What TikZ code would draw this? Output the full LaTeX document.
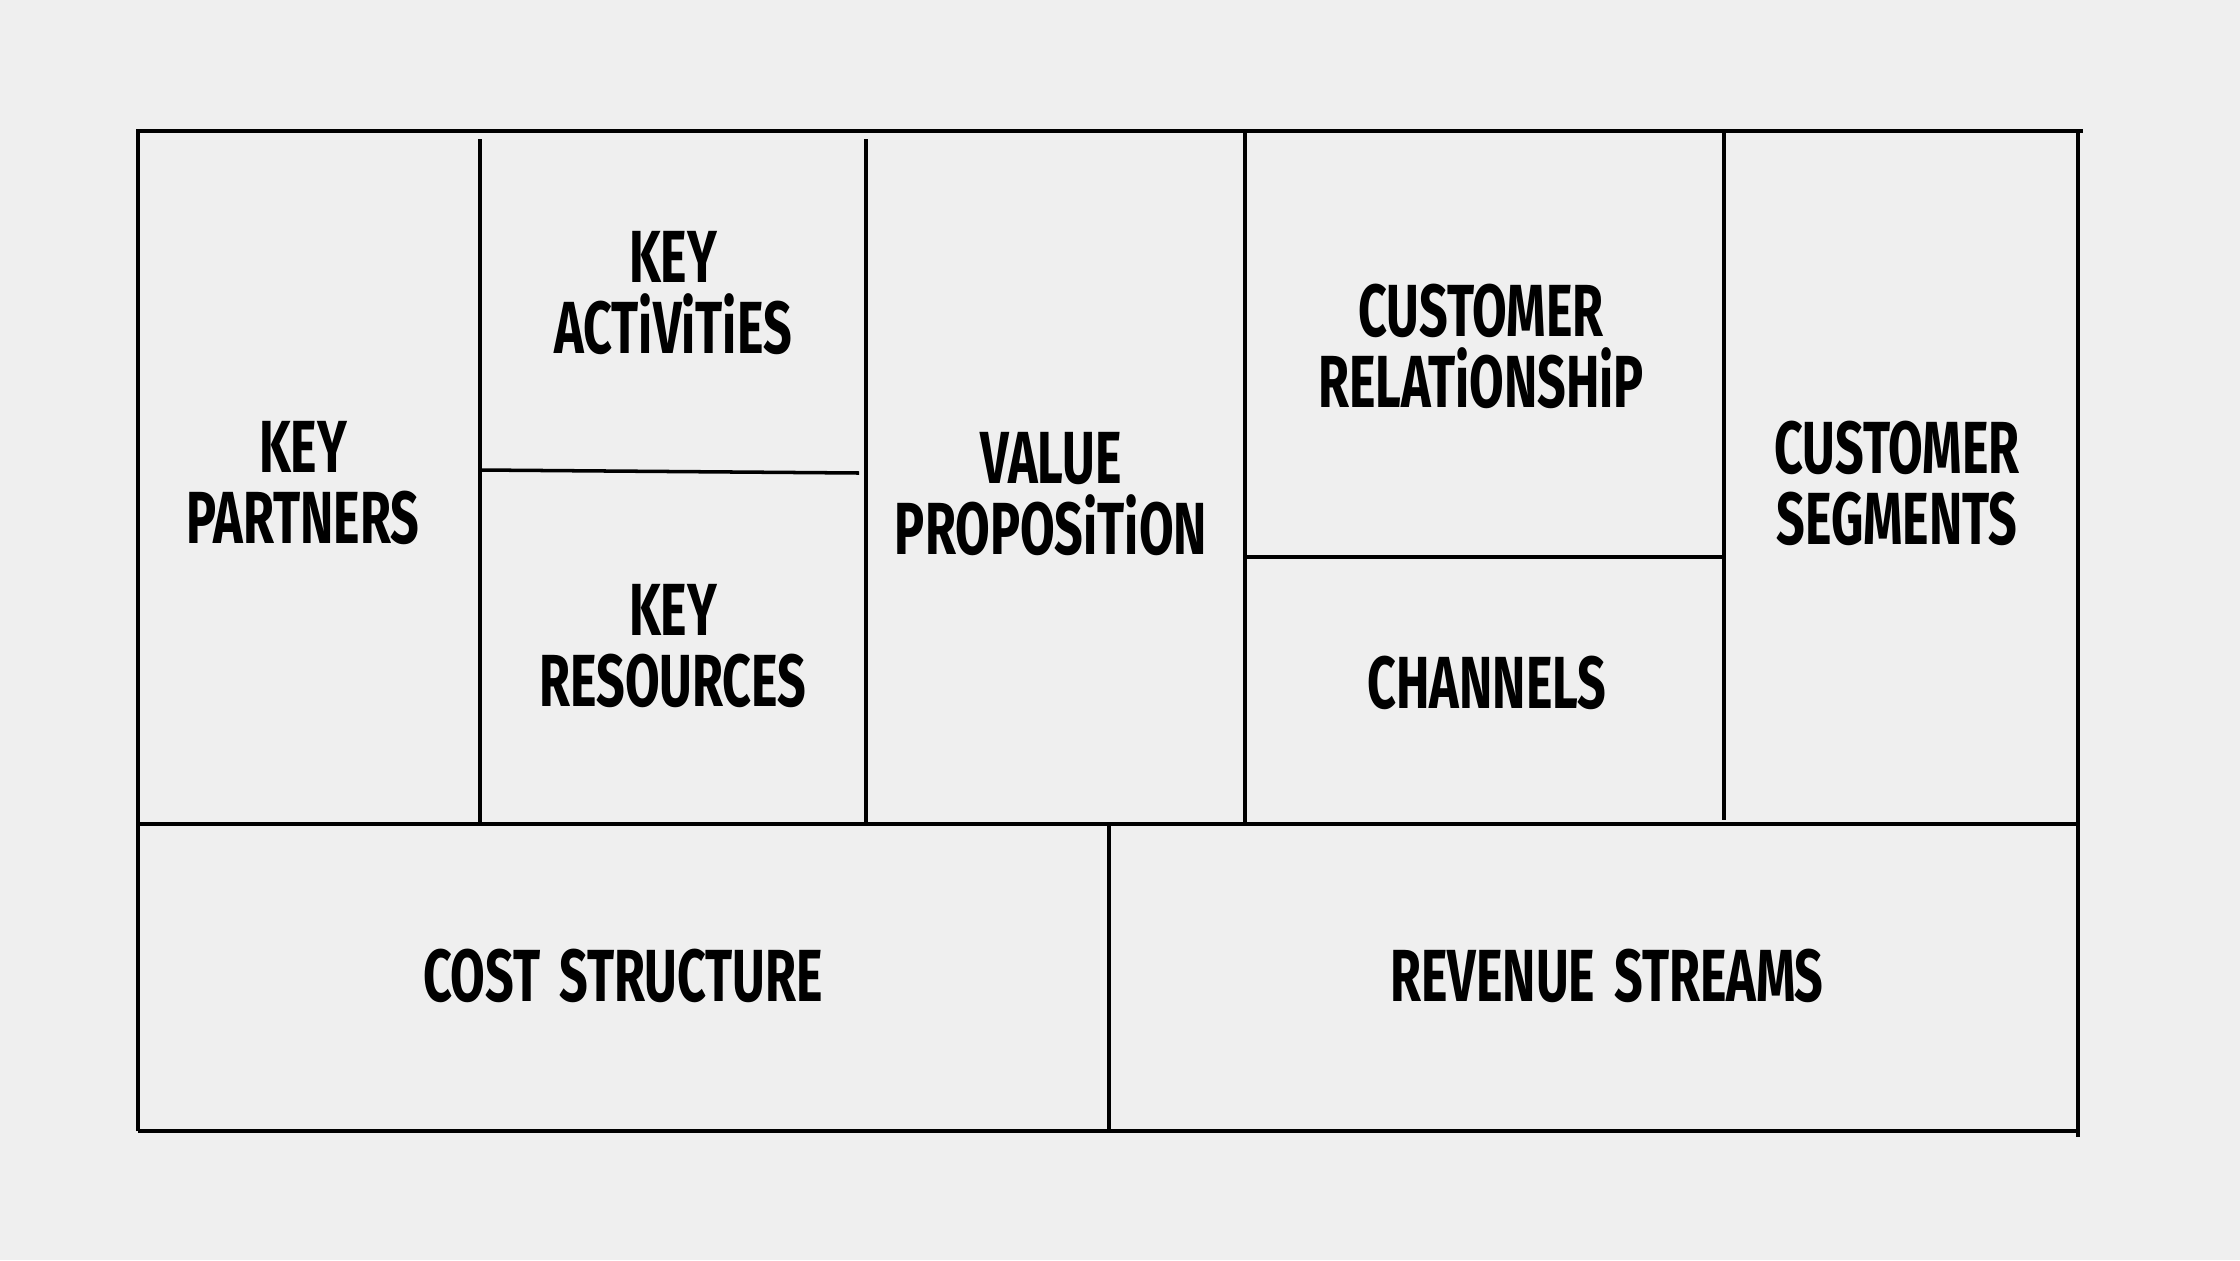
\documentclass[tikz,border=0pt]{standalone}
\usepackage{fontspec}
\setmainfont{Fira Sans}[FakeStretch=0.68, WordSpace=1.6]
\definecolor{canvasbg}{HTML}{EFEFEF}
\begin{document}
\begin{tikzpicture}[x=0.01cm, y=-0.01cm, cell/.style = {align=center, inner sep=0pt, font=\bfseries\fontsize{21}{20.2}\selectfont}, grid/.style = {line width=1pt}]
	\fill[canvasbg] (0,0) rectangle (2240,1260);
	\useasboundingbox (0,0) rectangle (2240,1260);
	% frame
	\draw[grid] (138,1131) -- (138,131) -- (2083,131);
	\draw[grid] (2078,131) -- (2078,1137);
	\draw[grid] (138,1131) -- (2078,1131);
	\draw[grid] (138,824) -- (2078,824);
	% upper columns
	\draw[grid] (480,139) -- (480,824);
	\draw[grid] (866,139) -- (866,824);
	\draw[grid] (1245,131) -- (1245,824);
	\draw[grid] (1724,131) -- (1724,820);
	\draw[grid] (480,470) -- (859,473);
	\draw[grid] (1245,557) -- (1724,557);
	% lower split
	\draw[grid] (1109,824) -- (1109,1131);
	% texts
	\node[cell] (partners) at (303,483) {KEY\\PARTNERS};
	\node[cell] (activities) at (673,293) {KEY\\ACTiViTiES};
	\node[cell] (resources) at (673,646) {KEY\\RESOURCES};
	\node[cell] (value) at (1051,494) {VALUE\\PROPOSiTiON};
	\node[cell] (relationship) at (1481,346) {CUSTOMER\\RELATiONSHiP};
	\node[cell] (channels) at (1487,683) {CHANNELS};
	\node[cell] (segments) at (1897,483) {CUSTOMER\\SEGMENTS};
	\node[cell] (cost) at (623,976) {COST STRUCTURE};
	\node[cell] (revenue) at (1607,976) {REVENUE STREAMS};
\end{tikzpicture}
\end{document}
